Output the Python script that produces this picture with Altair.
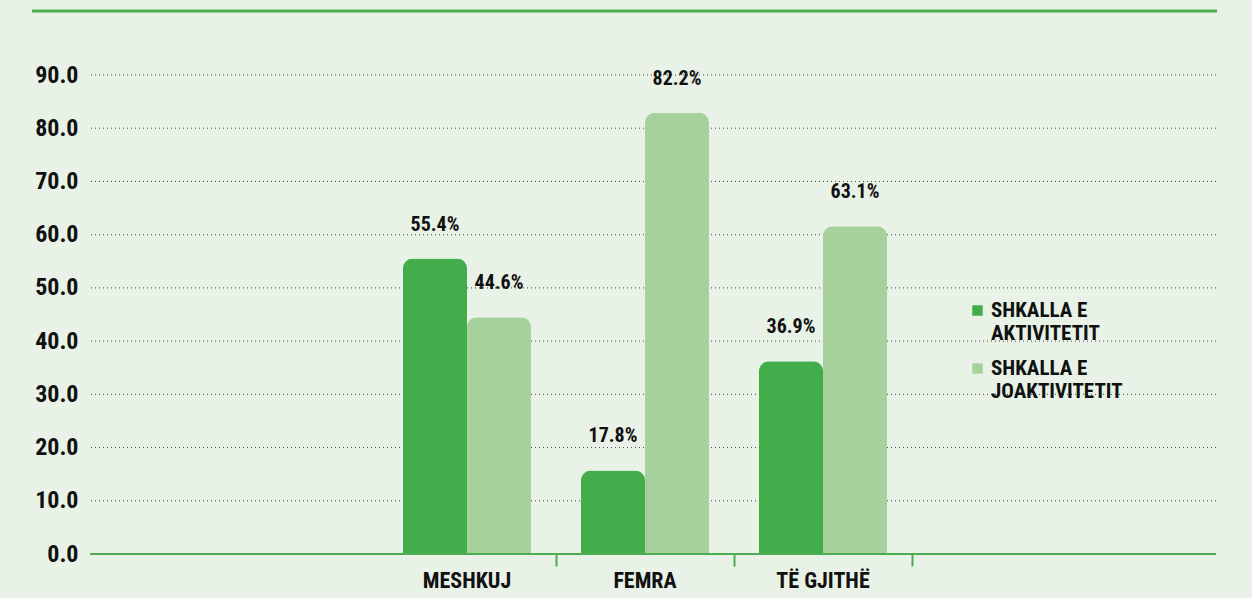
import altair as alt
import pandas as pd

categories = ["MESHKUJ", "FEMRA", "TË GJITHË"]
series = ["SHKALLA E AKTIVITETIT", "SHKALLA E JOAKTIVITETIT"]
bar_aktiv = [55.5, 15.7, 36.2]
bar_joaktiv = [44.5, 82.9, 61.6]
label_aktiv = ["55.4%", "17.8%", "36.9%"]
label_joaktiv = ["44.6%", "82.2%", "63.1%"]
y_ticks = [10, 20, 30, 40, 50, 60, 70, 80, 90]
colors = ["#43ad4b", "#a6d19c"]

rows = []
for i, c in enumerate(categories):
    rows.append({"cat": c, "series": series[0], "value": bar_aktiv[i], "label": label_aktiv[i]})
    rows.append({"cat": c, "series": series[1], "value": bar_joaktiv[i], "label": label_joaktiv[i]})
df = pd.DataFrame(rows)
grid_df = pd.DataFrame({"value": y_ticks})
base_df = pd.DataFrame({"value": [0]})

FONT = "Roboto Condensed, Archivo Narrow, Liberation Sans Narrow, DejaVu Sans Condensed, sans-serif"
GREEN = "#4cae50"

x_enc = alt.X(
    "cat:N",
    sort=categories,
    scale=alt.Scale(domain=categories, range=[288, 822], paddingInner=0, paddingOuter=0),
    axis=alt.Axis(
        title=None, domain=False, grid=False, bandPosition=1,
        tickSize=12, tickColor=GREEN, tickWidth=2,
        labelPadding=4, labelFontSize=22, labelFont=FONT, labelFontWeight="bold",
        labelColor="#111111", labelAngle=0,
    ),
)
xo_enc = alt.XOffset("series:N", sort=series,
                     scale=alt.Scale(domain=series, paddingOuter=0.39, paddingInner=0))
y_scale = alt.Scale(domain=[0, 90], nice=False)
y_enc = alt.Y(
    "value:Q",
    scale=y_scale,
    axis=alt.Axis(
        title=None, values=[0] + y_ticks, format=".1f", domain=False, ticks=False, grid=False,
        labelPadding=12, labelFontSize=24, labelFont=FONT, labelFontWeight="bold",
        labelColor="#111111",
    ),
)

grid = alt.Chart(grid_df).mark_rule(color="#444444", strokeDash=[1, 3], strokeWidth=1).encode(
    y=alt.Y("value:Q", scale=y_scale)
)
baseline = alt.Chart(base_df).mark_rule(color=GREEN, strokeWidth=2).encode(
    y=alt.Y("value:Q", scale=y_scale)
)

bars = alt.Chart(df).mark_bar(cornerRadiusTopLeft=10, cornerRadiusTopRight=10).encode(
    x=x_enc,
    xOffset=xo_enc,
    y=y_enc,
    color=alt.Color(
        "series:N",
        sort=series,
        scale=alt.Scale(domain=series, range=colors),
        legend=alt.Legend(
            title=None, orient="none", legendX=877, legendY=225,
            symbolType="square", symbolSize=110, symbolStrokeWidth=0,
            labelFont=FONT, labelFontSize=21, labelFontWeight="bold", labelColor="#111111",
            labelOffset=3, rowPadding=13, labelLimit=300,
            labelExpr="[slice(datum.label, 0, 9), slice(datum.label, 10)]",
        ),
    ),
)

labels = alt.Chart(df).mark_text(
    dy=-34, baseline="middle", fontSize=20, font=FONT, fontWeight="bold", color="#111111"
).encode(x=x_enc, xOffset=xo_enc, y=y_enc, text="label:N")

top_line = alt.Chart(pd.DataFrame({"a": [0]})).mark_rule(color=GREEN, strokeWidth=3).encode(
    x=alt.value(-58), x2=alt.value(1127), y=alt.value(-64)
)

chart = alt.layer(grid, bars, baseline, labels, top_line).properties(
    width=1126, height=479,
    padding={"left": 90, "top": 75, "right": 36, "bottom": 44},
    autosize=alt.AutoSizeParams(type="none"),
    background="#e8f2e6",
).configure_view(stroke=None)

chart.save("out.html", embed_options={"renderer": "svg", "actions": False})
